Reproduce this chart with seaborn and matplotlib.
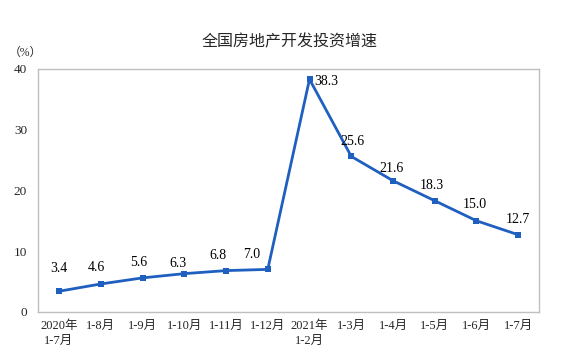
import pandas as pd
import matplotlib.pyplot as plt
import seaborn as sns
from matplotlib.ticker import FixedLocator

# chart data
periods = ["2020年\n1-7月", "1-8月", "1-9月", "1-10月", "1-11月", "1-12月",
           "2021年\n1-2月", "1-3月", "1-4月", "1-5月", "1-6月", "1-7月"]
growth = [3.4, 4.6, 5.6, 6.3, 6.8, 7.0, 38.3, 25.6, 21.6, 18.3, 15.0, 12.7]
y_ticks = [0, 10, 20, 30, 40]

# label offsets in pixels (dx, dy) relative to each point
label_offsets = [(0, 23), (-4, 16), (-4, 15), (-6, 10), (-8, 15), (-16, 15),
                 (5, -2), (1, 15), (-2, 12), (-3, 15), (-2, 16), (0, 15)]

df = pd.DataFrame({"period": periods, "growth": growth})

sns.set_style("white")
plt.rcParams['font.family'] = ['Liberation Serif', 'Noto Sans CJK SC']

line_color = "#1F5FC0"
spine_color = "#BFBFBF"

fig = plt.figure(figsize=(5.61, 3.61), dpi=100)
ax = fig.add_axes([0.068, 0.136, 0.893, 0.673])

sns.lineplot(data=df, x="period", y="growth", ax=ax, color=line_color,
             linewidth=2.0, marker="s", markersize=4.5, markeredgewidth=0,
             sort=False)

for i, (v, (dx, dy)) in enumerate(zip(growth, label_offsets)):
    ha = "left" if i == 6 else "center"
    ax.annotate(f"{v:.1f}", (i, v), xytext=(dx, dy), textcoords="offset pixels",
                ha=ha, va="center", fontsize=10, color="black")

ax.set_xlim(-0.5, len(periods) - 0.5)
ax.set_ylim(0, 40)
ax.set_yticks(y_ticks)
ax.set_yticklabels([str(t) for t in y_ticks], fontsize=9.5)
ax.set_xticks(range(len(periods)))
ax.set_xticklabels(periods, fontsize=9, linespacing=1.3)
ax.xaxis.set_minor_locator(FixedLocator([i + 0.5 for i in range(len(periods) - 1)]))
ax.tick_params(axis="x", which="major", length=0, pad=6)
ax.tick_params(axis="x", which="minor", direction="in", length=4, color=spine_color, width=0.8)
ax.tick_params(axis="y", direction="in", length=3, color=spine_color, width=0.8, pad=8)
ax.set_xlabel("")
ax.set_ylabel("")

for s in ax.spines.values():
    s.set_color(spine_color)
    s.set_linewidth(1.0)

fig.text(0.517, 0.883, "全国房地产开发投资增速", ha="center", va="center",
         fontsize=11.5, family=['Noto Sans CJK SC', 'DejaVu Sans'])
fig.text(0.045, 0.853, "（%）", ha="center", va="center", fontsize=8.5)

fig.savefig("out.png", dpi=100)
